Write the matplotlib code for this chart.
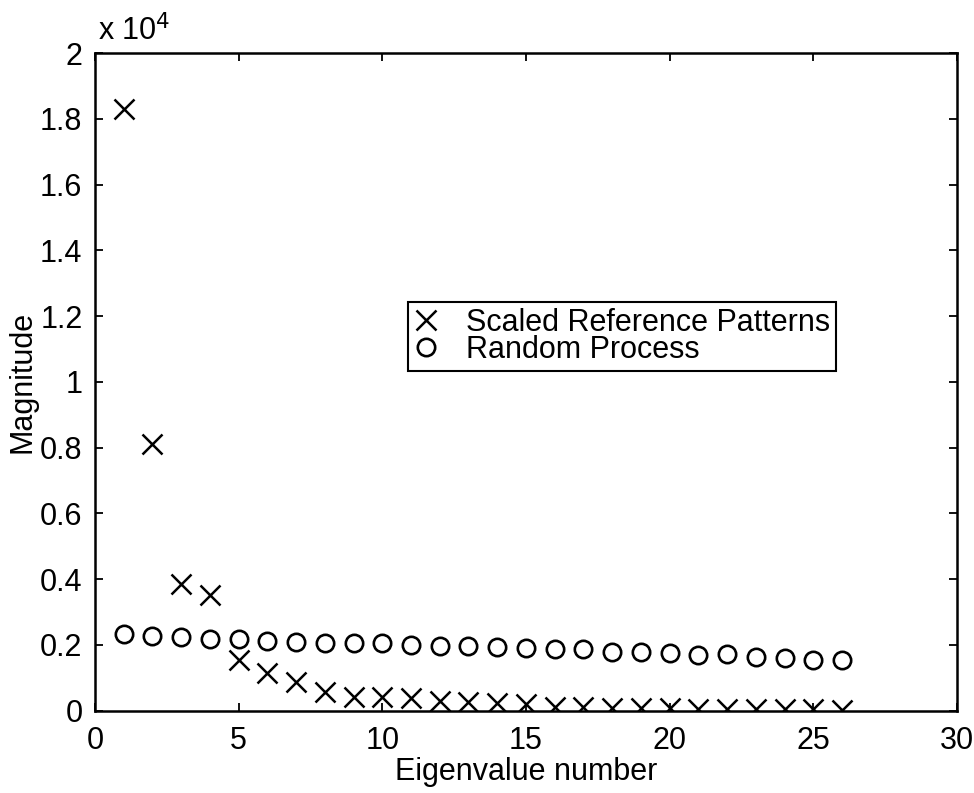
import numpy as np
import matplotlib.pyplot as plt
from matplotlib.ticker import FuncFormatter

plt.rcParams['font.family'] = ['Liberation Sans', 'DejaVu Sans']

# Eigenvalue spectra (magnitudes)
eig_num = np.arange(1, 27)
scaled_ref = [18300, 8100, 3850, 3500, 1550, 1150, 860, 570, 420, 400,
              370, 300, 255, 215, 210, 120, 100, 90, 80, 70,
              60, 50, 45, 40, 35, 30]
random_proc = [2340, 2280, 2240, 2190, 2170, 2110, 2100, 2050, 2050, 2050,
               1990, 1950, 1950, 1940, 1900, 1870, 1860, 1790, 1790, 1750,
               1700, 1710, 1640, 1600, 1540, 1540]

fs = 22

fig = plt.figure(figsize=(9.74, 7.93), dpi=100)
ax = fig.add_axes([0.0975, 0.104, 0.885, 0.829])

ax.plot(eig_num, scaled_ref, 'x', color='black', markersize=14, markeredgewidth=1.8,
        label='Scaled Reference Patterns')
ax.plot(eig_num, random_proc, 'o', color='black', markersize=12.5, markeredgewidth=1.9,
        markerfacecolor='none', label='Random Process')

ax.set_xlim(0, 30)
ax.set_ylim(0, 20000)
ax.set_xticks(np.arange(0, 31, 5))
ax.set_yticks(np.arange(0, 20001, 2000))
ax.yaxis.set_major_formatter(FuncFormatter(lambda v, p: f'{v / 1e4:g}'))
ax.tick_params(direction='in', length=6, width=1.3, top=True, right=True,
               labelsize=fs)
ax.tick_params(axis='x', pad=11)
ax.tick_params(axis='y', pad=9)
for sp in ax.spines.values():
    sp.set_linewidth(1.8)

ax.set_xlabel('Eigenvalue number', fontsize=fs, labelpad=1)
ax.set_ylabel('Magnitude', fontsize=fs, labelpad=2)
ax.text(0.003, 1.008, r'x 10$^{4}$', transform=ax.transAxes, fontsize=fs,
        ha='left', va='bottom')

leg = ax.legend(loc='upper left', bbox_to_anchor=(0.363, 0.622), fontsize=fs,
                frameon=True, fancybox=False, edgecolor='black', framealpha=1,
                borderpad=0.2, labelspacing=-0.1, handlelength=0.8,
                handletextpad=0.9, borderaxespad=0)
leg.get_frame().set_linewidth(1.5)

fig.savefig('out.png', dpi=100)
